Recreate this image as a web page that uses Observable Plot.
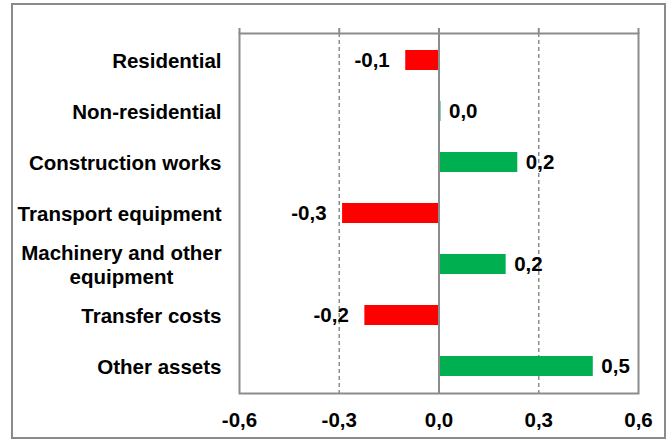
<!DOCTYPE html>
<html>
<head>
<meta charset="utf-8">
<script src="https://cdn.jsdelivr.net/npm/d3@7"></script>
<script src="https://cdn.jsdelivr.net/npm/@observablehq/plot@0.6"></script>
<style>
  html, body { margin: 0; padding: 0; background: #fff; }
  #chart { position: relative; width: 670px; height: 439px; }
</style>
</head>
<body>
<div id="chart"></div>
<script>
const categories = [
  "Residential",
  "Non-residential",
  "Construction works",
  "Transport equipment",
  "Machinery and other\nequipment",
  "Transfer costs",
  "Other assets"
];
const values = [-0.10, 0.006, 0.237, -0.29, 0.202, -0.223, 0.464];
const xTicks = [-0.6, -0.3, 0.0, 0.3, 0.6];
const dashedGrid = [-0.3, 0.3];
const zeroLine = [0];

const data = categories.map((c, i) => ({cat: c, value: values[i]}));
const fmt = v => d3.format(".1f")(v).replace(".", ",").replace("−", "-");

const FONT = "'Liberation Sans', Arial, sans-serif";
const FS = 20.5;
const GRAY = "#8c8c8c";
const neg = data.filter(d => d.value < 0);
const pos = data.filter(d => d.value >= 0);

const svg = Plot.plot({
  width: 670,
  height: 439,
  marginLeft: 239,
  marginRight: 32,
  marginTop: 33,
  marginBottom: 46,
  style: {fontFamily: FONT, fontSize: FS + "px", fontWeight: "bold", color: "#000", background: "#fff"},
  x: {domain: [-0.6, 0.6]},
  y: {domain: categories, type: "band", paddingInner: 0.6, paddingOuter: 0.28, axis: null},
  marks: [
    Plot.ruleX(dashedGrid, {stroke: GRAY, strokeWidth: 1.5, strokeDasharray: "4,3"}),
    Plot.barX(neg, {x: "value", y: "cat", fill: "#ff0000"}),
    Plot.barX(pos, {x: "value", y: "cat", fill: "#00b050"}),
    Plot.ruleX(zeroLine, {stroke: GRAY, strokeWidth: 2}),
    Plot.frame({stroke: GRAY, strokeWidth: 2}),
    Plot.axisX({anchor: "top", ticks: xTicks, tickSize: 6, tickFormat: () => "", stroke: GRAY, strokeWidth: 2, label: null}),
    Plot.axisX({anchor: "bottom", ticks: xTicks, tickSize: 0, tickPadding: 19, tickFormat: fmt, label: null, fill: "#000", fontSize: FS}),
    Plot.text(categories, {y: d => d, frameAnchor: "left", textAnchor: "end", dx: -18, text: d => d, fill: "#000", fontSize: FS, lineHeight: 1.15}),
    Plot.text(neg, {x: "value", y: "cat", text: d => fmt(d.value), textAnchor: "end", dx: -16, fill: "#000", fontSize: FS}),
    Plot.text(pos, {x: "value", y: "cat", text: d => fmt(d.value), textAnchor: "start", dx: 8, fill: "#000", fontSize: FS})
  ]
});

document.getElementById("chart").appendChild(svg);

// center multi-line category labels (keep right edge aligned)
svg.querySelectorAll("text").forEach(t => {
  const spans = t.querySelectorAll("tspan");
  if (spans.length > 1) {
    const bb = t.getBBox();
    const right = bb.x + bb.width;
    let maxW = 0;
    spans.forEach(s => { maxW = Math.max(maxW, s.getComputedTextLength()); });
    t.setAttribute("text-anchor", "middle");
    t.style.textAnchor = "middle";
    spans.forEach(s => { s.setAttribute("x", right - maxW / 2); s.style.textAnchor = "middle"; });
  }
});

// outer chart border
const ns = "http://www.w3.org/2000/svg";
const border = document.createElementNS(ns, "rect");
border.setAttribute("x", 12);
border.setAttribute("y", 4);
border.setAttribute("width", 653);
border.setAttribute("height", 434);
border.setAttribute("fill", "none");
border.setAttribute("stroke", "#8a8a8a");
border.setAttribute("stroke-width", 2);
svg.appendChild(border);
</script>
</body>
</html>
